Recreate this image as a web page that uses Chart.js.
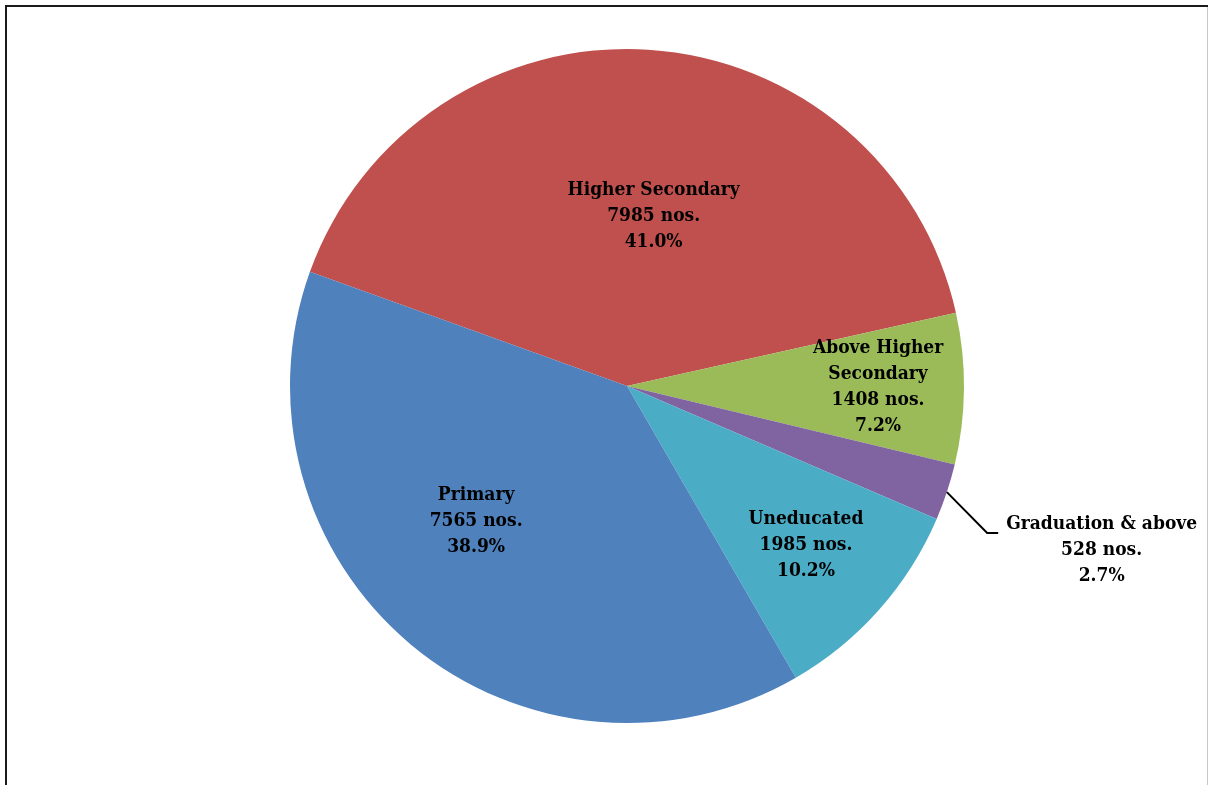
<!DOCTYPE html>
<html>
<head>
<meta charset="utf-8">
<script src="https://cdn.jsdelivr.net/npm/chart.js@4/dist/chart.umd.min.js"></script>
<style>
  html, body { margin: 0; padding: 0; background: #fff; }
  #wrap { position: relative; width: 1209px; height: 785px; }
</style>
</head>
<body>
<div id="wrap"><canvas id="chart"></canvas></div>
<script>
// education level breakdown
const categories = ['Higher Secondary', 'Above Higher Secondary', 'Graduation & above', 'Uneducated', 'Primary']
const counts = [7985, 1408, 528, 1985, 7565]
const sliceColors = ['#C0504D', '#9BBB59', '#8064A2', '#4BACC6', '#4F81BD']

// text lines per label (the long name wraps in its slice)
const labelNames = [['Higher Secondary'], ['Above Higher', 'Secondary'], ['Graduation & above'], ['Uneducated'], ['Primary']]
// where each label sits: angle shift (deg, clockwise) and distance as a share of the radius
const labelPlace = [
  {shift: 5.3, r: 0.51},
  {shift: -0.2, r: 0.745},
  {shift: 0.7, r: 1.49, leader: true},
  {shift: 0, r: 0.71},
  {shift: 8.4, r: 0.6}
]

const total = counts.reduce((a, b) => a + b, 0)

const frame = {
  id: 'frame',
  afterDraw(chart) {
    const ctx = chart.ctx
    ctx.save()
    ctx.fillStyle = '#1a1a1a'
    ctx.fillRect(5, 5, 1203, 2)
    ctx.fillRect(5, 5, 2, 780)
    ctx.fillStyle = '#c8c8c8'
    ctx.fillRect(1207, 7, 1, 778)
    ctx.restore()
  }
}

const sliceLabels = {
  id: 'sliceLabels',
  afterDatasetsDraw(chart) {
    const ctx = chart.ctx
    const arcs = chart.getDatasetMeta(0).data
    ctx.save()
    ctx.font = 'bold 19px "DejaVu Serif Condensed", "DejaVu Serif"'
    ctx.fillStyle = '#000'
    ctx.textAlign = 'center'
    ctx.textBaseline = 'middle'
    const lh = 26
    arcs.forEach((arc, i) => {
      const p = labelPlace[i]
      const mid = (arc.startAngle + arc.endAngle) / 2
      const a = mid + p.shift * Math.PI / 180
      const cx = arc.x + Math.cos(a) * arc.outerRadius * p.r
      const cy = arc.y + Math.sin(a) * arc.outerRadius * p.r
      const lines = labelNames[i].concat([counts[i] + ' nos.', (counts[i] / total * 100).toFixed(1) + '%'])
      const top = cy - (lines.length - 1) * lh / 2
      lines.forEach((t, k) => ctx.fillText(t, cx, top + k * lh))

      if (p.leader) {
        const w = ctx.measureText(lines[0]).width
        const sx = arc.x + Math.cos(mid) * arc.outerRadius
        const sy = arc.y + Math.sin(mid) * arc.outerRadius
        const ex = cx - w / 2 - 8
        const ey = top + 9
        ctx.strokeStyle = '#000'
        ctx.lineWidth = 2
        ctx.beginPath()
        ctx.moveTo(sx, sy)
        ctx.lineTo(ex - 11, ey)
        ctx.lineTo(ex, ey)
        ctx.stroke()
      }
    })
    ctx.restore()
  }
}

new Chart(document.getElementById('chart'), {
  type: 'pie',
  data: {
    labels: categories,
    datasets: [{
      data: counts,
      backgroundColor: sliceColors,
      borderWidth: 0
    }]
  },
  options: {
    responsive: true,
    maintainAspectRatio: false,
    animation: false,
    rotation: -70.2,
    layout: {
      padding: {left: 290, right: 245, top: 49, bottom: 62}
    },
    plugins: {
      legend: {display: false},
      tooltip: {enabled: false}
    }
  },
  plugins: [frame, sliceLabels]
})
</script>
</body>
</html>
